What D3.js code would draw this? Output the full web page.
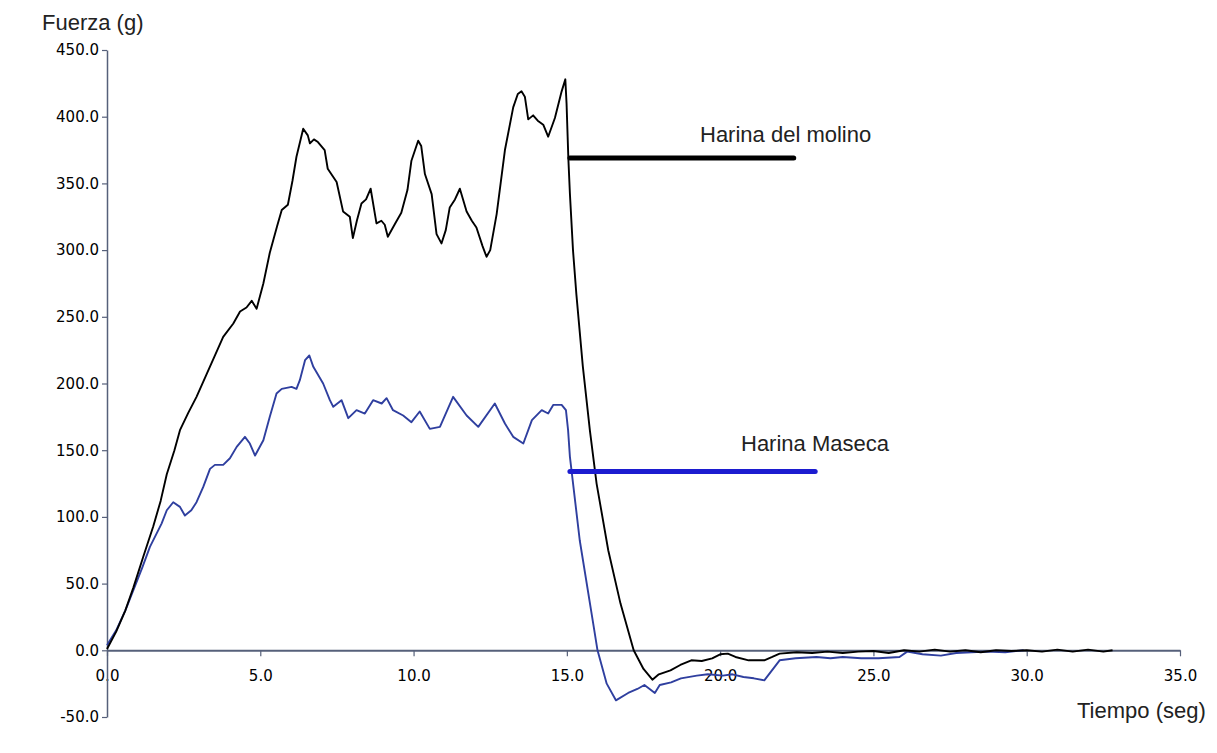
<!DOCTYPE html>
<html>
<head>
<meta charset="utf-8">
<script src="https://cdn.jsdelivr.net/npm/d3@7"></script>
<style>
    html, body { margin: 0; padding: 0; background: #fff; }
    svg { display: block; }
</style>
</head>
<body>
<div id="chart"></div>
<script>
// Harina del molino (black)
const molinoTime = [0, 0.3, 0.6, 0.86, 1.18, 1.51, 1.75, 1.95, 2.2, 2.38, 2.65, 2.92, 3.25, 3.5, 3.79,
    4.12, 4.34, 4.55, 4.72, 4.88, 5.1, 5.31, 5.55, 5.7, 5.9, 6.05, 6.18, 6.4, 6.55, 6.62, 6.75, 6.88,
    7.1, 7.2, 7.49, 7.7, 7.92, 8.02, 8.15, 8.3, 8.45, 8.6, 8.79, 8.95, 9.06, 9.16, 9.4, 9.6, 9.8, 9.93,
    10.15, 10.25, 10.37, 10.59, 10.75, 10.91, 11.05, 11.18, 11.35, 11.51, 11.73, 11.9, 12.05, 12.25,
    12.38, 12.5, 12.71, 12.98, 13.25, 13.4, 13.52, 13.63, 13.74, 13.9, 14.05, 14.23, 14.39, 14.61,
    14.83, 14.95, 14.99, 15.05, 15.1, 15.2, 15.31, 15.52, 15.75, 15.97, 16.35, 16.75, 17.18, 17.5, 17.79,
    18.0, 18.38, 18.7, 19.06, 19.4, 19.74, 20.0, 20.25, 20.5, 20.93, 21.44, 21.7, 21.94, 22.5, 23.0,
    23.5, 24, 24.5, 25, 25.5, 26, 26.5, 27, 27.5, 28, 28.5, 29, 29.5, 30, 30.5, 31, 31.5, 32, 32.5, 32.8];
const molinoForce = [1, 14, 30, 47, 70, 93, 112, 132, 150, 165, 178, 190, 207, 220, 235,
    245, 254, 257, 262, 256, 275, 298, 318, 330, 334, 352, 370, 391, 386, 380, 383, 381,
    375, 361, 351, 329, 325, 309, 322, 335, 338, 346, 320, 322, 319, 310, 320, 328, 345, 367,
    382, 378, 357, 342, 312, 305, 315, 332, 338, 346, 329, 322, 317, 303,
    295, 300, 327, 375, 407, 417, 419, 415, 398, 401, 397, 394, 385, 399,
    419, 428, 410, 368, 342, 300, 267, 213, 165, 125, 75, 35, 0, -14, -22,
    -18, -15, -11, -7.5, -8, -6, -3, -2.5, -5, -7.5, -7.5, -5, -2.5, -1.5, -2,
    -1, -2, -1, -0.5, -2, 0, -1, 0.5, -1, 0, -1.5, 0, -0.5, 0, -1, 0.5, -1, 0.5, -1, 0];

// Harina Maseca (blue)
const masecaTime = [0, 0.3, 0.6, 0.86, 1.15, 1.4, 1.78, 1.95, 2.16, 2.38, 2.54, 2.75, 2.92, 3.14, 3.36,
    3.52, 3.79, 4.01, 4.23, 4.5, 4.66, 4.83, 5.1, 5.31, 5.53, 5.7, 6.02, 6.18, 6.29, 6.46, 6.6, 6.73,
    7.05, 7.27, 7.38, 7.65, 7.87, 8.14, 8.41, 8.68, 8.96, 9.12, 9.33, 9.66, 9.93, 10.2, 10.53, 10.86,
    11.29, 11.73, 12.11, 12.65, 12.98, 13.25, 13.58, 13.86, 14.18, 14.39, 14.56, 14.83, 14.97, 15.04,
    15.1, 15.42, 15.86, 16.0, 16.3, 16.6, 17.0, 17.3, 17.53, 17.87, 18.03, 18.4, 18.72, 19.24, 19.6,
    20.09, 20.4, 20.76, 21.1, 21.44, 21.94, 22.46, 23.14, 23.6, 24.0, 24.6, 25.17, 25.85, 26.1, 26.6,
    27.2, 27.7, 28.2, 28.7, 29.3, 29.9];
const masecaForce = [3.75, 15, 30, 45, 62, 77.5, 95, 105, 111, 107.5, 101, 105, 111, 122.5, 136,
    139, 139, 144, 152.5, 160, 155, 146, 157.5, 175, 192.5, 196, 197.5, 196, 202.5, 217.5, 221, 212.5,
    200, 187.5, 182.5, 187.5, 174, 180, 177.5, 187.5, 185, 189, 180, 176, 171, 179, 166, 167.5,
    190, 176, 167.5, 185, 170, 160, 155, 172.5, 180, 177.5, 184, 184, 180, 165,
    145, 82.5, 20, 0, -25, -37.5, -32, -29, -26, -32, -26, -24, -21, -19, -18,
    -19, -18, -20, -21, -22.5, -7.5, -6, -5, -6, -5, -6, -6, -5, -1, -3,
    -4, -2, -1.5, -1, -1.5, 0];

const xTicks = [0, 5, 10, 15, 20, 25, 30, 35];
const yTicks = [-50, 0, 50, 100, 150, 200, 250, 300, 350, 400, 450];

const seriesNames = ["Harina del molino", "Harina Maseca"];
// legend marker lines: value on y and start/end time
const legendLevel = [369, 134];
const legendStart = [15.1, 15.1];
const legendEnd = [22.4, 23.1];

const width = 1217, height = 753;

const svg = d3.select("#chart")
    .append("svg")
    .attr("width", width)
    .attr("height", height)
    .style("background", "#fff");

const x = d3.scaleLinear().domain([0, 35]).range([107, 1180]);
const y = d3.scaleLinear().domain([-50, 450]).range([717, 50]);

const axisColor = "#56607a";
const tickFont = "'DejaVu Sans', Verdana, sans-serif";
const fmt = d => d.toFixed(1); // plain hyphen for negatives

// x axis
const xAxis = svg.append("g")
    .attr("transform", `translate(0,${y(0)})`)
    .call(d3.axisBottom(x).tickValues(xTicks).tickFormat(fmt)
        .tickSizeInner(6).tickSizeOuter(0).tickPadding(14));

// y axis
const yAxis = svg.append("g")
    .attr("transform", `translate(${x(0)},0)`)
    .call(d3.axisLeft(y).tickValues(yTicks).tickFormat(fmt)
        .tickSizeInner(5).tickSizeOuter(0).tickPadding(3));

[xAxis, yAxis].forEach(ax => {
    ax.select(".domain").attr("stroke", axisColor);
    ax.selectAll(".tick line").attr("stroke", axisColor).attr("stroke-width", 1.2);
    ax.selectAll(".tick text")
        .attr("fill", "#000")
        .style("font-family", tickFont)
        .style("font-size", "15px");
});
xAxis.select(".domain").attr("stroke-width", 2);
yAxis.select(".domain").attr("stroke-width", 1.5);

// data lines
const line = d3.line()
    .x(d => x(d[0]))
    .y(d => y(d[1]));

const molino = molinoTime.map((t, i) => [t, molinoForce[i]]);
const maseca = masecaTime.map((t, i) => [t, masecaForce[i]]);

svg.append("path")
    .datum(maseca)
    .attr("d", line)
    .attr("fill", "none")
    .attr("stroke", "#2f3f9f")
    .attr("stroke-width", 1.9)
    .attr("stroke-linejoin", "round");

svg.append("path")
    .datum(molino)
    .attr("d", line)
    .attr("fill", "none")
    .attr("stroke", "#000")
    .attr("stroke-width", 1.9)
    .attr("stroke-linejoin", "round");

// annotation lines
const legendColors = ["#000", "#1c1cd0"];
seriesNames.forEach((name, i) => {
    svg.append("line")
        .attr("x1", x(legendStart[i]))
        .attr("x2", x(legendEnd[i]))
        .attr("y1", y(legendLevel[i]))
        .attr("y2", y(legendLevel[i]))
        .attr("stroke", legendColors[i])
        .attr("stroke-width", 5)
        .attr("stroke-linecap", "round");
});

const labelFont = "'Liberation Sans', Arial, Helvetica, sans-serif";
const labels = [
    { text: seriesNames[0], x: 700, y: 142 },
    { text: seriesNames[1], x: 741, y: 451 },
    { text: "Fuerza (g)", x: 42, y: 30 },
    { text: "Tiempo (seg)", x: 1077, y: 718 }
];
svg.selectAll("text.label")
    .data(labels)
    .join("text")
    .attr("class", "label")
    .attr("x", d => d.x)
    .attr("y", d => d.y)
    .attr("fill", "#222")
    .style("font-family", labelFont)
    .style("font-size", "22px")
    .text(d => d.text);
</script>
</body>
</html>
